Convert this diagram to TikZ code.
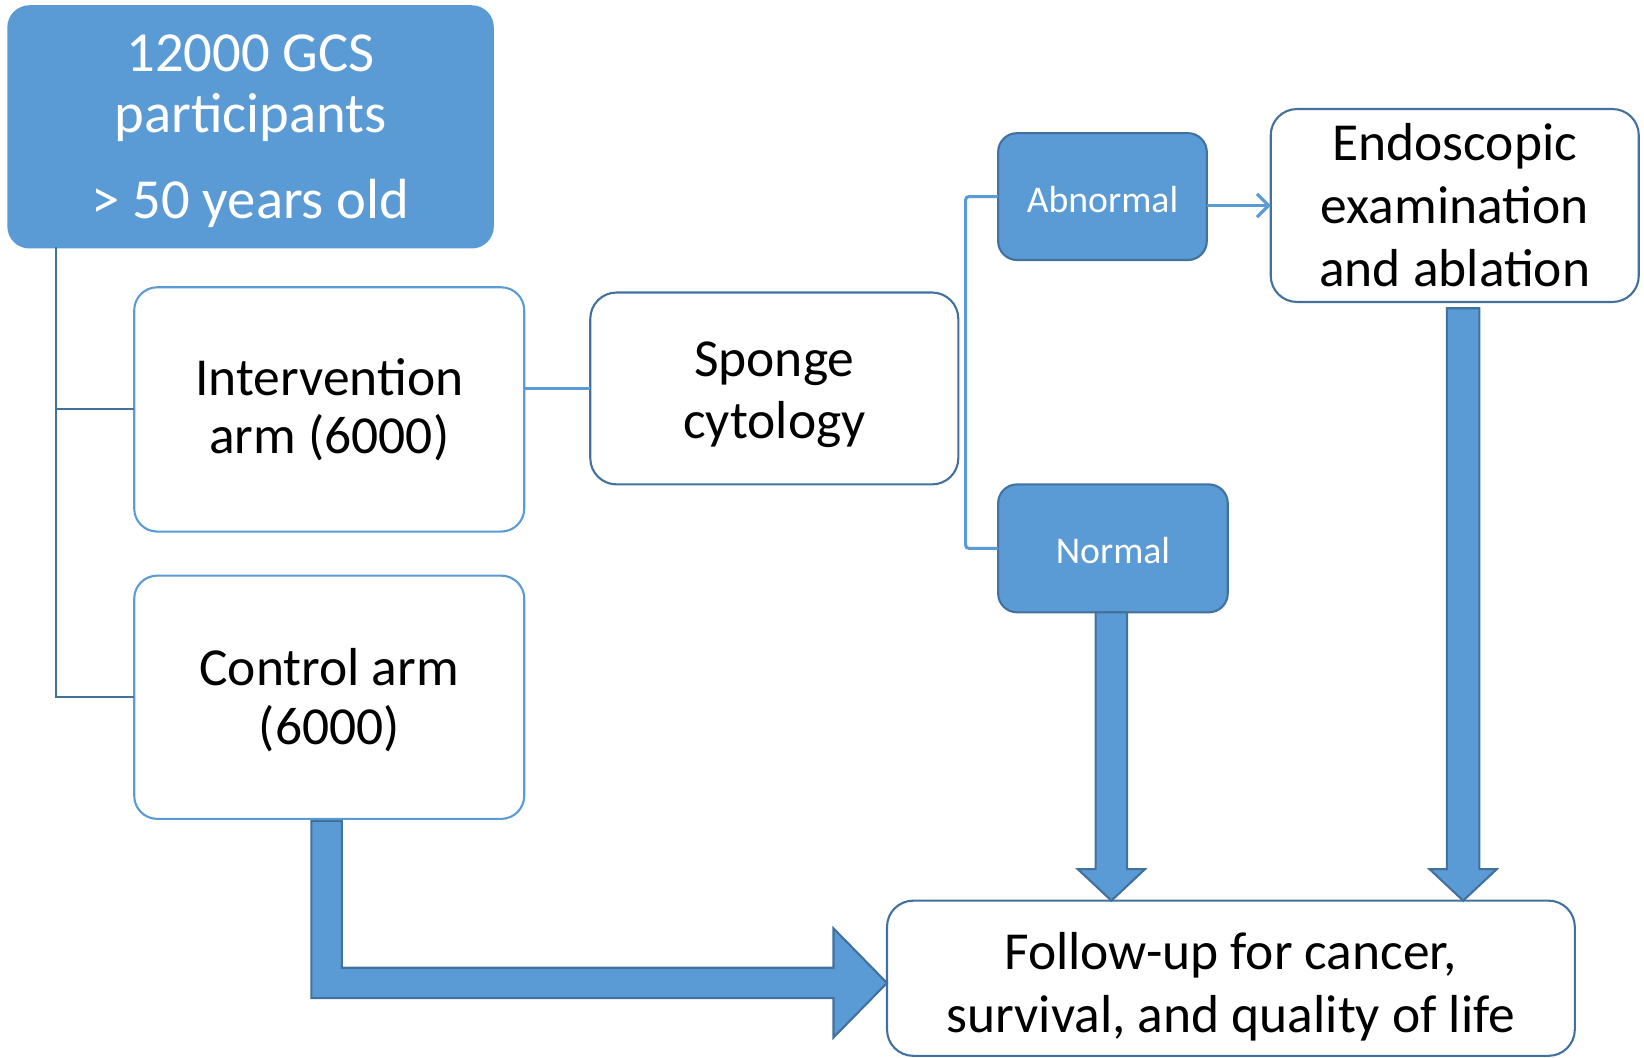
\documentclass[tikz,border=0pt]{standalone}
\usepackage{fontspec}
\setmainfont{Carlito}
\usetikzlibrary{calc,arrows.meta}
\definecolor{fillblue}{HTML}{5B9BD5}
\definecolor{darkblue}{HTML}{41719C}
\newcommand{\lift}[1]{\rule{0pt}{#1}}
\tikzset{
  boxbase/.style={rectangle, align=center, inner sep=0pt, outer sep=0pt, line width=2pt},
  topbox/.style={boxbase, rounded corners=20pt, fill=fillblue, draw=fillblue, text=white, font=\fontsize{54}{58}\selectfont},
  armbox/.style={boxbase, rounded corners=22pt, fill=white, draw=fillblue, text=black, font=\fontsize{51}{56}\selectfont},
  whitebox/.style={boxbase, rounded corners=25pt, fill=white, draw=darkblue, text=black, font=\fontsize{51}{60}\selectfont},
  resbox/.style={boxbase, rounded corners=18pt, fill=fillblue, draw=darkblue, text=white, font=\fontsize{36}{40}\selectfont},
  treeline/.style={draw=darkblue, line width=2pt},
  lightline/.style={draw=fillblue, line width=3pt},
  thinarrow/.style={draw=fillblue, line width=3pt, -{Straight Barb[length=11pt,width=22pt,line width=3pt]}},
  fatarrow/.style={fill=fillblue, draw=darkblue, line width=2pt, line join=miter}
}
\begin{document}
\begin{tikzpicture}[x=1pt,y=1pt]
\useasboundingbox (0,0) rectangle (1568,-1009);

\node[topbox, minimum width=462pt, minimum height=230pt] (T) at (239,-121)
  {\lift{43pt}12000 GCS\\participants\\[24pt]> 50 years old};
\node[armbox, minimum width=372pt, minimum height=233pt] (I) at (314,-390.5)
  {\lift{36pt}Intervention\\arm (6000)};
\node[armbox, minimum width=372pt, minimum height=232pt] (C) at (314,-665)
  {\lift{41pt}Control arm\\(6000)};
\node[whitebox, minimum width=351pt, minimum height=183pt] (S) at (738.5,-370.5)
  {\lift{45pt}Sponge\\cytology};
\node[resbox, minimum width=199pt, minimum height=121pt] (A) at (1051.5,-187.5)
  {\lift{30pt}Abnormal};
\node[resbox, minimum width=219pt, minimum height=122pt] (N) at (1061.5,-523)
  {\lift{30pt}Normal};
\node[whitebox, minimum width=351pt, minimum height=184pt] (E) at (1387.5,-196)
  {Endoscopic\\examination\\and ablation};
\node[whitebox, minimum width=656pt, minimum height=148pt] (F) at (1174,-933)
  {\lift{51pt}Follow-up for cancer,\\survival, and quality of life};

% tree from top box
\coordinate (trunk) at ($(T.south west)+(45,0)$);
\draw[treeline] (trunk) |- (I.west);
\draw[treeline] (trunk) |- (C.west);

% intervention to sponge
\draw[lightline] (S.west -| I.east) -- (S.west);

% bracket to results
\draw[lightline, rounded corners=3pt] (A.west) -- ++(-31,0) |- (N.west);

% abnormal to endoscopy
\draw[thinarrow] (A.east |- E.west) -- (E.west);

% fat arrow: Normal -> Follow-up
\coordinate (nt) at ($(N.south)+(-1.5,0)$);
\coordinate (ntip) at (nt |- F.north);
\draw[fatarrow] ($(nt)+(-15,0)$) -- ($(ntip)+(-15,30)$) -- ($(ntip)+(-32,30)$) -- (ntip)
  -- ($(ntip)+(32,30)$) -- ($(ntip)+(15,30)$) -- ($(nt)+(15,0)$) -- cycle;

% fat arrow: Endoscopy -> Follow-up
\coordinate (et) at ($(E.south)+(8,-6)$);
\coordinate (etip) at (et |- F.north);
\draw[fatarrow] ($(et)+(-15.5,0)$) -- ($(etip)+(-15.5,30)$) -- ($(etip)+(-32,30)$) -- (etip)
  -- ($(etip)+(32,30)$) -- ($(etip)+(15.5,30)$) -- ($(et)+(15.5,0)$) -- cycle;

% fat L arrow: Control -> Follow-up
\coordinate (ct) at ($(C.south)+(-2.5,-2)$);
\coordinate (ft) at ($(F.west)+(0,-4.5)$);
\draw[fatarrow] ($(ct)+(-14.5,0)$) -- ($(ct |- ft)+(-14.5,-14.5)$) -- ($(ft)+(-51,-14.5)$)
  -- ($(ft)+(-51,-52)$) -- (ft) -- ($(ft)+(-51,52)$) -- ($(ft)+(-51,14.5)$)
  -- ($(ct |- ft)+(14.5,14.5)$) -- ($(ct)+(14.5,0)$) -- cycle;
\end{tikzpicture}
\end{document}
